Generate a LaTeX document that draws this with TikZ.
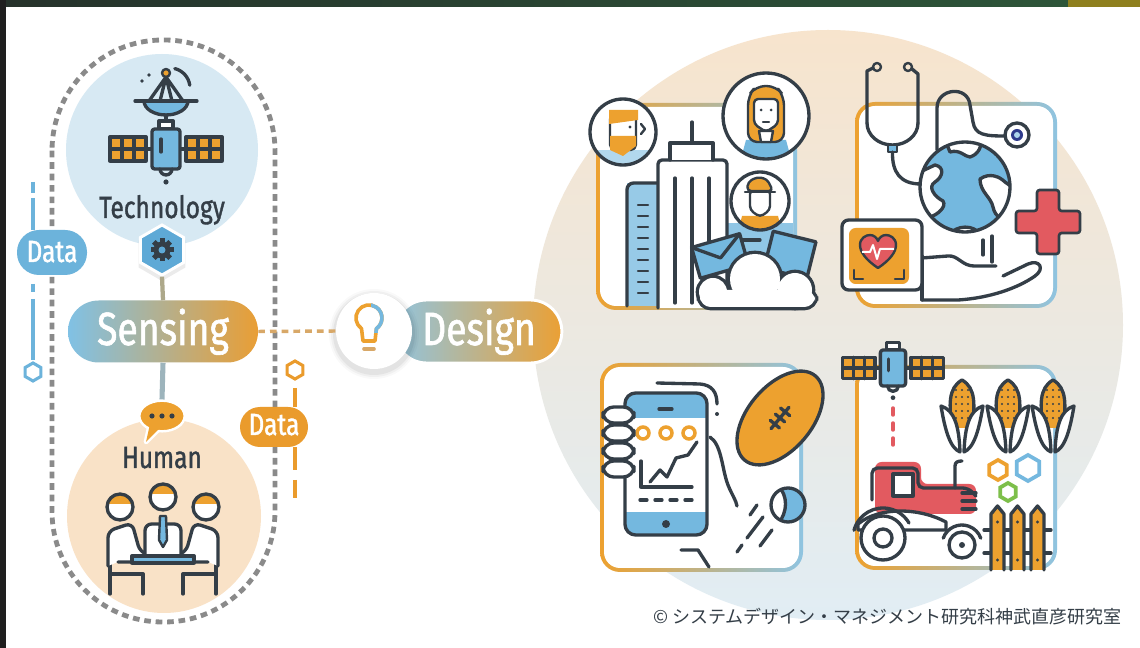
\documentclass[tikz,border=0pt]{standalone}
\usepackage{fontspec}
\setmainfont{Fira Sans}
\newfontfamily\condfont[FakeStretch=0.8, FakeBold=1.2]{Fira Sans}
\newfontfamily\jpfont{Noto Sans CJK JP}
\usetikzlibrary{shapes.geometric}

\definecolor{ink}{HTML}{343E47}
\definecolor{icblue}{HTML}{74B8DF}
\definecolor{icorange}{HTML}{EDA12F}
\definecolor{techbg}{HTML}{D7E9F3}
\definecolor{humbg}{HTML}{F9E2C7}
\definecolor{hexblue}{HTML}{5EA9D6}
\definecolor{tred}{HTML}{E25A60}
\definecolor{tgreen}{HTML}{7DBF4A}
\definecolor{dashgray}{HTML}{8A8A8A}
\definecolor{datablue}{HTML}{6CB3DB}
\definecolor{dataorange}{HTML}{EA9B2C}
\definecolor{sensL}{HTML}{80C1E5}
\definecolor{sensR}{HTML}{E99E35}
\definecolor{desL}{HTML}{92C4DD}
\definecolor{desR}{HTML}{EBA034}
\definecolor{frameblue}{HTML}{8FC4E1}
\definecolor{linkkhaki}{HTML}{ADA88A}
\definecolor{linkgray}{HTML}{9DB4BC}
\definecolor{linktan}{HTML}{D8A868}
\definecolor{bgpeach}{HTML}{F7E4CD}
\definecolor{bgmid}{HTML}{EEEBE5}
\definecolor{bgblue}{HTML}{E1EDF4}
\definecolor{navy}{HTML}{2E3A8C}
\definecolor{stripA}{HTML}{26322B}
\definecolor{stripB}{HTML}{1F3346}
\definecolor{stripC}{HTML}{2D5539}
\definecolor{stripD}{HTML}{8E7F1E}

\tikzset{
  ln/.style={draw=ink, line width=2.5pt, line cap=round, line join=round},
  lnt/.style={draw=ink, line width=1.8pt, line cap=round, line join=round},
  pill/.style={inner sep=0pt, text=white},
  disc/.style={circle, inner sep=0pt},
  capt/.style={inner sep=0pt, text=ink, font=\condfont\fontsize{23}{23}\selectfont},
  bigword/.style={inner sep=0pt, text=white, font=\condfont\fontsize{35}{35}\selectfont},
  pics/satellite/.style={code={
    \draw[ln] (-20,0) -- (-14,0) (14,0) -- (20,0);
    \filldraw[ln, fill=icorange] (-56,-12) rectangle (-20,12);
    \draw[ln] (-44,-12) -- (-44,12) (-32,-12) -- (-32,12) (-56,0) -- (-20,0);
    \filldraw[ln, fill=icorange] (20,-12) rectangle (56,12);
    \draw[ln] (32,-12) -- (32,12) (44,-12) -- (44,12) (20,0) -- (56,0);
    \filldraw[ln, fill=white] (-7,-28) rectangle (7,-20);
    \filldraw[ln, fill=icblue, rounded corners=2pt] (-14,-20) rectangle (14,20);
    \draw[ln] (-5,-10) -- (-5,3);
    \draw[ln] (-6,20) arc[start angle=180, end angle=0, radius=6];
    \fill[ink] (0,33) circle[radius=2.6];
  }}
}

% rounded panel with an orange-to-blue rim
\newcommand\framepanel[4]{%
  \shade[left color=icorange, right color=frameblue, rounded corners=15pt] (#1,#2) rectangle (#3,#4);
  \fill[white, rounded corners=12pt] (#1+4,#2+4) rectangle (#3-4,#4-4);}
% pointy-top hexagon path: centre x, centre y, radius
\newcommand\hexat[3]{(#1,#2) +(90:#3) -- +(30:#3) -- +(-30:#3) -- +(-90:#3) -- +(-150:#3) -- +(150:#3) -- cycle}
% round head with orange hair
\newcommand\headat[3]{%
  \begin{scope}
    \clip (#1,#2) circle[radius=#3];
    \fill[white] (#1,#2) circle[radius=#3];
    \fill[icorange] (#1-#3,#2-#3) rectangle (#1+#3,#2-0.2*#3);
  \end{scope}
  \draw[ln] (#1,#2) circle[radius=#3];}
\newcommand\bulbpath{(361.5,328.6) arc[start angle=125, end angle=415, radius=13] -- (375,341) -- (363,341) -- cycle}

\begin{document}
\begin{tikzpicture}[x=0.75pt, y=-0.75pt]
\useasboundingbox (0,0) rectangle (1140,648);
\fill[white] (0,0) rectangle (1140,648);

% photo edge strips
\shade[left color=stripA, middle color=stripB, right color=stripC] (0,0) rectangle (1068,7);
\fill[stripD] (1068,0) rectangle (1140,7);
\fill[black!88] (0,0) rectangle (6,648);

% soft disc behind the applications
\shade[top color=bgpeach, middle color=bgmid, bottom color=bgblue] (828,325) circle[radius=295];

% dashed loop around sensing
\draw[dashgray, line width=3.6pt, dash pattern=on 5pt off 3.6pt, rounded corners=83pt] (52,40) rectangle (275,622);

% the two sources
\node[disc, fill=techbg, minimum size=144pt] (tech) at (162,150) {};
\node[disc, fill=humbg, minimum size=145.5pt] (human) at (164,516) {};

% data flows
\node[pill, fill=datablue, rounded corners=16.5pt, minimum width=52.5pt, minimum height=33.75pt] (dataL) at (52,252.5) {};
\node[capt, text=white, anchor=base] (dataLtext) at (52,262) {Data};
\coordinate (bltop) at (33,198);
\coordinate (blbot) at (33,360);
\draw[datablue, line width=2.3pt] (bltop) -- (bltop |- dataL.north);
\draw[datablue, line width=2.3pt] (33,182) -- (33,193) (33,284) -- (33,292);
\draw[datablue, line width=2.3pt] (33,299) -- (blbot);
\draw[datablue, line width=2.3pt] \hexat{33}{372}{9};

\node[pill, fill=dataorange, rounded corners=15pt, minimum width=51pt, minimum height=30pt] (dataR) at (274,427) {};
\node[capt, text=white, anchor=base] (dataRtext) at (274,435) {Data};
\coordinate (ortop) at (295,388);
\coordinate (orbot) at (295,470);
\draw[dataorange, line width=2.3pt] (ortop) -- (ortop |- dataR.north);
\draw[dataorange, line width=2.3pt] (orbot |- dataR.south) -- (orbot);
\draw[dataorange, line width=2.3pt] (295,480) -- (295,498);
\draw[dataorange, line width=2.3pt] \hexat{295}{370}{9};

% sensing hub
\fill[black, opacity=0.08] \hexat{162}{254}{27};
\node[regular polygon, regular polygon sides=6, shape border rotate=30, minimum size=37.5pt, inner sep=0pt, fill=hexblue, draw=white, line width=2.2pt] (hex) at (162,250) {};
\node[pill, left color=sensL, right color=sensR, rounded corners=23pt, minimum width=142.5pt, minimum height=46.5pt] (sensing) at (163,331.5) {};
\node[bigword, anchor=base] (sensingtext) at (163,345) {Sensing};

% speech bubble
\filldraw[white, line width=3.6pt, line join=round] (150,424) -- (160,428) -- (146,442) -- cycle;
\node[ellipse, fill=icorange, draw=white, line width=1.8pt, minimum width=34pt, minimum height=23pt, inner sep=0pt] (bubble) at (162,416) {};
\fill[icorange] (150,424) -- (160,428) -- (146,442) -- cycle;
\fill[ink] (152,416) circle[radius=2.6] (162,416) circle[radius=2.6] (172,416) circle[radius=2.6];

% design
\node[pill, left color=desL, right color=desR, draw=white, line width=2.2pt, rounded corners=23.5pt, minimum width=125pt, minimum height=47.25pt] (design) at (478.5,331.5) {};
\node[bigword, anchor=base] (designtext) at (479,345) {Design};
\foreach \r/\o in {45/0.025, 43/0.035, 41/0.05} \fill[black, opacity=\o] (374,334) circle[radius=\r];
\node[disc, fill=white, minimum size=57pt] (bulb) at (374,331) {};

% links
\draw[linkkhaki, line width=3.2pt] (hex.south) -- (sensing.north);
\draw[linkgray, line width=3.8pt] (sensing.south) -- (bubble.north);
\draw[linktan, line width=2.6pt, dash pattern=on 5pt off 3.8pt] (sensing.east) -- (bulb.west);

% light bulb
\draw[icorange, line width=2.7pt, line join=round] \bulbpath;
\begin{scope}
  \clip (371,300) rectangle (392,333);
  \draw[icblue, line width=2.7pt, line join=round] \bulbpath;
\end{scope}
\draw[linktan, line width=2.7pt, line cap=round] (364,349) -- (374,349);

% gear
\foreach \a in {0,45,90,135} \fill[ink, rotate around={\a:(162,250)}] (159.5,238.5) rectangle (164.5,261.5);
\fill[ink] (162,250) circle[radius=8.5];
\fill[hexblue] (162,250) circle[radius=3.5];

% technology: satellite with dish
\draw[ln] (166,77) -- (149,101) (166,77) -- (183,101) (166,77) -- (160,101) (166,77) -- (172,101);
\filldraw[ln, fill=icblue] (144,101) arc[start angle=180, end angle=0, x radius=22, y radius=14] -- cycle;
\draw[ln] (135,101) -- (197,101);
\draw[ln] (166,115) -- (166,121);
\filldraw[lnt, fill=icorange] (166,73) circle[radius=4];
\draw[ln] (174.8,68.6) arc[start angle=-76, end angle=-8, radius=20];
\fill[ink] (142,81) circle[radius=1.8] (149,75) circle[radius=1.8];
\pic at (166,149) {satellite};
\node[capt, anchor=base] (techtext) at (162,218) {Technology};

% human: three people at a table
\node[capt, anchor=base] (humantext) at (162,468) {Human};
\draw[ln] (110,555) -- (110,594) (110,574) -- (143,574) -- (143,594);
\draw[ln] (216,555) -- (216,594) (216,574) -- (183,574) -- (183,594);
\filldraw[ln, fill=white, rounded corners=5pt] (108,566) -- (108,531) -- (132,523) -- (140,552) -- (152,556) -- (152,562) -- (118,562);
\filldraw[ln, fill=white, rounded corners=5pt] (218,566) -- (218,531) -- (194,523) -- (186,552) -- (174,556) -- (174,562) -- (208,562);
\filldraw[ln, fill=white, rounded corners=5pt] (145,558) -- (145,524) -- (181,524) -- (181,558);
\filldraw[lnt, fill=icblue] (160,516) -- (166,516) -- (167,540) -- (163,547) -- (159,540) -- cycle;
\headat{120}{507}{13}
\headat{206}{507}{13}
\headat{163}{497}{13}
\filldraw[ln, fill=icblue] (132,556) rectangle (194,563);

% ---------- city ----------
\framepanel{596}{103}{797}{310}
\fill[icblue!80] (727,223) rectangle (793,306);
\fill[icblue!75] (627,183) rectangle (660,306);
\draw[ln, rounded corners=5pt] (627,306) -- (627,183) -- (658,183);
\foreach \yy in {205,216,227,238,249,260,271,282,293} \draw[lnt] (638,\yy) -- (648,\yy);
\filldraw[ln, fill=white, rounded corners=3pt] (658,308) -- (658,160) -- (727,160) -- (727,308);
\filldraw[ln, fill=white] (670,160) -- (670,143) -- (713,143) -- (713,160);
\draw[ln] (692,122) -- (692,143);
\draw[ln] (675,178) -- (675,303) (692,178) -- (692,303) (709,178) -- (709,303);
\draw[ln] (737,240) -- (760,240);
\filldraw[ln, fill=icblue, rotate around={-14:(790,255)}] (768,236) rectangle (812,274);
\filldraw[ln, fill=icblue, rotate around={16:(720,256)}] (695,240) rectangle (745,272);
\draw[ln, rotate around={16:(720,256)}] (695,240) -- (720,258) -- (745,240);
\draw[ink, line width=5pt] (713,292) circle[radius=14] (755,279) circle[radius=25] (795,290) circle[radius=17];
\draw[ink, line width=5pt, rounded corners=8pt] (700,290) rectangle (815,307);
\fill[white] (713,292) circle[radius=14] (755,279) circle[radius=25] (795,290) circle[radius=17];
\fill[white, rounded corners=8pt] (700,290) rectangle (815,307);
% bearded man
\begin{scope}
  \clip (623,132) circle[radius=33];
  \fill[white] (623,132) circle[radius=33];
  \fill[icblue!55] (598,150) rectangle (648,170);
  \filldraw[lnt, fill=white, rounded corners=4pt] (610,114) rectangle (636,150);
  \fill[icorange] (609,110) -- (638,110) -- (638,120) -- (609,124) -- cycle;
  \fill[icorange] (610,136) -- (636,136) -- (636,146) -- (623,156) -- (610,150) -- cycle;
  \fill[ink] (630,127) circle[radius=1.6];
  \draw[lnt] (641,124) -- (645,129) -- (641,134);
\end{scope}
\draw[ln] (623,132) circle[radius=33];
% woman
\begin{scope}
  \clip (766,116) circle[radius=43];
  \fill[white] (766,116) circle[radius=43];
  \fill[icblue] (746,140) -- (786,140) -- (792,162) -- (740,162) -- cycle;
  \filldraw[lnt, fill=icorange, rounded corners=7pt] (748,142) -- (748,96) -- (756,86) -- (776,86) -- (784,96) -- (784,142) -- cycle;
  \filldraw[lnt, fill=white, rounded corners=3pt] (754,99) -- (778,99) -- (778,124) -- (766,132) -- (754,124) -- cycle;
  \filldraw[lnt, fill=white] (759,131) -- (773,131) -- (771,142) -- (761,142) -- cycle;
  \fill[ink] (761,110) circle[radius=1.5] (771,110) circle[radius=1.5];
  \draw[lnt] (763,122) -- (769,122);
\end{scope}
\draw[ln] (766,116) circle[radius=43];
% worker
\begin{scope}
  \clip (760,201) circle[radius=29];
  \fill[white] (760,201) circle[radius=29];
  \fill[icorange] (742,216) -- (778,216) -- (782,232) -- (738,232) -- cycle;
  \filldraw[lnt, fill=white, rounded corners=3pt] (750,190) -- (770,190) -- (770,210) -- (760,217) -- (750,210) -- cycle;
  \filldraw[lnt, fill=icorange, rounded corners=3pt] (747,191) -- (748,182) -- (757,177) -- (767,179) -- (773,191) -- cycle;
  \draw[lnt] (745,192) -- (775,192);
\end{scope}
\draw[ln] (760,201) circle[radius=29];

% ---------- health ----------
\framepanel{855}{102}{1057}{308}
\draw[ln] (867,123) -- (867,71) -- (873,68);
\draw[lnt] (877,67) circle[radius=4];
\draw[ln] (918,123) -- (918,74) -- (912,69);
\draw[lnt] (908,67) circle[radius=4];
\draw[ln] (867,123) arc[start angle=180, end angle=0, x radius=25.5, y radius=22];
\filldraw[lnt, fill=icblue] (888,145) rectangle (897,152);
\draw[ln] (892.5,152) .. controls (892,172) and (900,184) .. (921,184);
\draw[ln] (937,150) -- (937,108) .. controls (937,88) and (968,85) .. (970,105) -- (973,122) .. controls (975,135) and (985,136) .. (1005,136);
\filldraw[ln, fill=white] (1017,135) circle[radius=12];
\fill[navy] (1017,135) circle[radius=6];
\fill[icblue!60] (1017,135) circle[radius=3];
% globe
\begin{scope}
  \clip (965,187) circle[radius=45];
  \fill[icblue] (965,187) circle[radius=45];
  \filldraw[ln, fill=white] (920,172) -- (935,165) .. controls (945,167) and (943,177) .. (935,182) .. controls (927,187) and (935,197) .. (943,201) .. controls (947,207) and (937,215) .. (930,217) -- (915,217) -- cycle;
  \filldraw[ln, fill=white] (945,140) -- (950,152) .. controls (960,149) and (965,157) .. (970,157) .. controls (978,154) and (980,150) .. (982,140) -- cycle;
  \filldraw[ln, fill=white] (980,179) .. controls (990,172) and (1000,177) .. (1005,182) -- (1012,187) -- (1012,217) .. controls (1003,222) and (995,217) .. (993,207) .. controls (991,197) and (980,192) .. (980,179) -- cycle;
  \filldraw[ln, fill=white] (950,235) .. controls (955,225) and (975,224) .. (980,235) -- cycle;
\end{scope}
\draw[ln] (965,187) circle[radius=45];
\draw[ln] (983,240) -- (983,255) (992,236) -- (992,262);
% hand
\draw[ln] (922,258) -- (948,256) .. controls (958,255) and (962,266) .. (974,266) -- (996,266);
\draw[ln] (922,300) -- (958,300) .. controls (990,298) and (1018,288) .. (1035,276) .. controls (1045,269) and (1040,259) .. (1028,264) -- (1003,276);
\draw[ln] (922,256) -- (922,300);
% heart monitor
\filldraw[ln, fill=white, rounded corners=5pt] (842,220) rectangle (922,290);
\fill[icorange, rounded corners=5pt] (849,228) rectangle (909,284);
\filldraw[lnt, fill=tred] (878,268) .. controls (866,260) and (860,252) .. (860,245) .. controls (860,238) and (866,235) .. (870,235) .. controls (874,235) and (877,238) .. (878,241) .. controls (879,238) and (882,235) .. (886,235) .. controls (890,235) and (896,238) .. (896,245) .. controls (896,252) and (890,260) .. (878,268) -- cycle;
\draw[draw=white, line width=1.5pt, line join=round] (862,252) -- (870,252) -- (873,245) -- (877,259) -- (880,249) -- (894,249);
\draw[lnt] (854,270) -- (854,279) -- (863,279) (895,279) -- (904,279) -- (904,270);
% red cross
\filldraw[fill=tred, draw=ink, line width=2pt, line join=round, rounded corners=2pt] (1037,190) -- (1059,190) -- (1059,211) -- (1080,211) -- (1080,233) -- (1059,233) -- (1059,254) -- (1037,254) -- (1037,233) -- (1016,233) -- (1016,211) -- (1037,211) -- cycle;

% ---------- sport ----------
\framepanel{600}{363}{803}{572}
\begin{scope}
  \clip[rounded corners=8pt] (625,393) rectangle (707,535);
  \fill[white] (625,393) rectangle (707,535);
  \fill[icblue] (625,393) rectangle (707,418);
  \fill[icblue] (625,512) rectangle (707,535);
\end{scope}
\draw[ln, rounded corners=8pt] (625,393) rectangle (707,535);
\draw[ln] (659,409) -- (672,409);
\fill[ink] (666,524) circle[radius=4];
\foreach \cx in {643,666,689} \draw[icorange, line width=2.6pt] (\cx,433) circle[radius=6];
\draw[ln] (641,461) -- (641,487) -- (692,487);
\draw[ln] (650,482) -- (660,470) -- (667,477) -- (676,458) -- (688,455) -- (697,442);
\foreach \xx in {640,655,670,685} \draw[ln] (\xx,500) -- (\xx+7,500);
\foreach \fy in {415,433,451,469} \filldraw[ln, fill=white, rounded corners=8pt] (603,\fy-8) rectangle (634,\fy+8);
\draw[ln] (657,383) -- (700,384) .. controls (712,385) and (717,392) .. (717,404);
\fill[ink] (717,414) circle[radius=2];
\draw[ln] (710,437) .. controls (722,445) and (722,470) .. (728,485) .. controls (732,495) and (736,500) .. (737,506);
\draw[ln] (681,550) -- (698,550) -- (709,567);
\begin{scope}[shift={(780,418)}, rotate=50]
  \filldraw[ln, fill=icorange] (0,0) ellipse[x radius=55, y radius=32];
  \draw[ln] (-14,0) -- (14,0);
  \draw[ln] (-8,-6) -- (-8,6) (0,-6) -- (0,6) (8,-6) -- (8,6);
\end{scope}
\begin{scope}
  \clip (788,505) circle[radius=17];
  \fill[icblue] (788,505) circle[radius=17];
  \fill[white] (770,486) -- (778,486) .. controls (788,495) and (788,512) .. (778,524) -- (770,524) -- cycle;
  \draw[ln] (778,486) .. controls (788,495) and (788,512) .. (778,524);
\end{scope}
\draw[ln] (788,505) circle[radius=17];
\draw[ln] (757,505) -- (750,515) (763,517) -- (747,538) (742,545) -- (737,552) (772,530) -- (760,546);

% ---------- farming ----------
\framepanel{855}{365}{1057}{570}
\pic[scale=0.9] at (893,368) {satellite};
\foreach \yy in {408,423,438} \draw[tred, line width=2.6pt, line cap=round] (893,\yy) -- (893,\yy+7);
% tractor
\fill[tred, rounded corners=5pt] (875,462) -- (921,462) -- (921,484) -- (976,484) -- (976,514) -- (875,514) -- cycle;
\draw[ln, rounded corners=4pt] (872,500) -- (872,468) -- (918,468) -- (918,488) -- (968,488) -- (976,496);
\filldraw[ln, fill=white] (893,474) rectangle (913,496);
\draw[ln] (962,493) -- (976,493) (962,501) -- (976,501) (962,509) -- (976,509);
\draw[ln] (955,488) -- (955,466) .. controls (955,462) and (958,461) .. (962,461);
\filldraw[ln, fill=white] (858,524) .. controls (880,506) and (920,508) .. (946,522) -- (946,530) -- (858,530) -- cycle;
\draw[ln] (883,538) ++(195:30) arc[start angle=195, end angle=330, radius=30];
\draw[ln] (962,545) ++(200:20) arc[start angle=200, end angle=340, radius=20];
\filldraw[ln, fill=white] (883,538) circle[radius=22];
\draw[ln] (883,538) circle[radius=9];
\filldraw[ln, fill=white] (962,545) circle[radius=13];
\fill[ink] (962,545) circle[radius=3];
% corn
\foreach \cx in {962,1008,1053} {
  \begin{scope}
    \clip (\cx,380) .. controls (\cx+14,388) and (\cx+13,405) .. (\cx+10,428) -- (\cx-10,428) .. controls (\cx-13,405) and (\cx-14,388) .. (\cx,380) -- cycle;
    \fill[icorange] (\cx-15,378) rectangle (\cx+15,430);
    \foreach \dy in {0,7,14,21,28} \foreach \dx in {-6,0,6} \fill[ink] (\cx+\dx,390+\dy) circle[radius=1.2];
  \end{scope}
  \draw[ln] (\cx,380) .. controls (\cx+14,388) and (\cx+13,405) .. (\cx+10,428) (\cx,380) .. controls (\cx-14,388) and (\cx-13,405) .. (\cx-10,428);
  \filldraw[ln, fill=white] (\cx-21,406) .. controls (\cx-8,410) and (\cx-3,425) .. (\cx-2,452) .. controls (\cx-12,448) and (\cx-17,430) .. (\cx-21,406) -- cycle;
  \filldraw[ln, fill=white] (\cx+21,406) .. controls (\cx+8,410) and (\cx+3,425) .. (\cx+2,452) .. controls (\cx+12,448) and (\cx+17,430) .. (\cx+21,406) -- cycle;
}
% nut hexagons
\draw[icorange, line width=2.8pt] \hexat{998}{470}{10};
\draw[icblue, line width=2.8pt] \hexat{1028}{468}{13};
\draw[tgreen, line width=2.8pt] \hexat{1008}{492}{9};
% fence
\draw[ln] (984,530) -- (1051,530) (984,553) -- (1051,553);
\foreach \px in {991,1011,1031} {
  \filldraw[ln, fill=icorange] (\px,570) -- (\px,514) -- (\px+6.5,506) -- (\px+13,514) -- (\px+13,570);
  \fill[ink] (\px+6.5,522) circle[radius=1.6] (\px+6.5,560) circle[radius=1.6];
}

% credit line
\node[anchor=east, inner sep=0pt, text=ink, font=\jpfont\fontsize{13.5}{13.5}\selectfont] (credit) at (1122,617) {© システムデザイン・マネジメント研究科神武直彦研究室};
\end{tikzpicture}
\end{document}
